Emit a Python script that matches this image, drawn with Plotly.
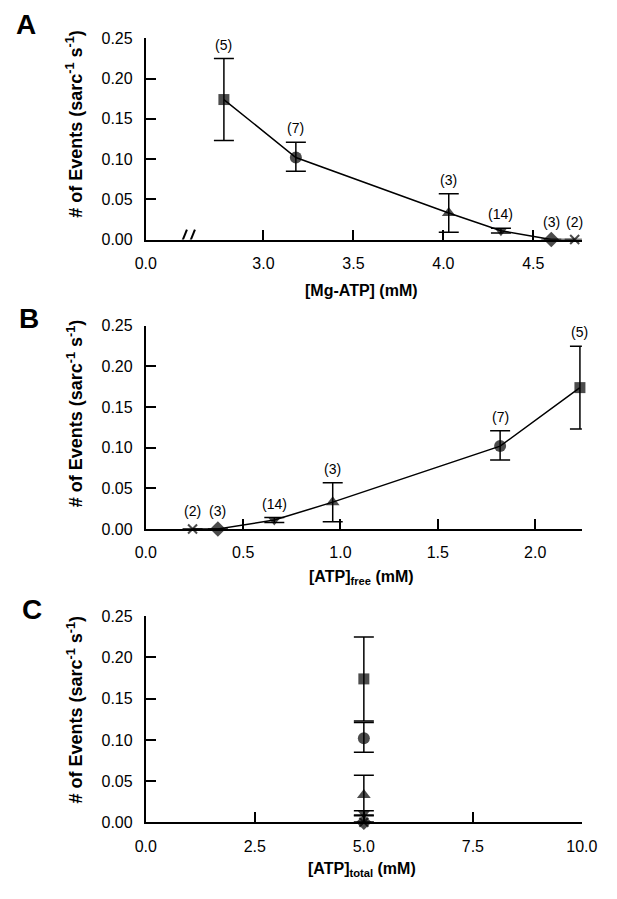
import plotly.graph_objects as go

# ---------------- data ----------------
MG_ATP = [2.78, 3.18, 4.03, 4.32, 4.60, 4.73]          # panel A x (mM)
ATP_FREE = [2.23, 1.82, 0.96, 0.66, 0.37, 0.24]        # panel B x (mM)
ATP_TOTAL = [5.0, 5.0, 5.0, 5.0, 5.0, 5.0]             # panel C x (mM)
EVENTS = [0.174, 0.102, 0.033, 0.011, 0.0, 0.0]        # # of events (sarc^-1 s^-1)
ERR_PLUS = [0.051, 0.019, 0.024, 0.003, 0.0, 0.0]
ERR_MINUS = [0.051, 0.017, 0.024, 0.003, 0.0, 0.0]
N_LABELS = ["(5)", "(7)", "(3)", "(14)", "(3)", "(2)"]
SYMBOLS = ["square", "circle", "triangle-up", "triangle-down", "diamond", "x-thin"]

A_TICKVALS = [2.346, 3.0, 3.5, 4.0, 4.5]
A_TICKTEXT = ["0.0", "3.0", "3.5", "4.0", "4.5"]
A_RANGE = [2.346, 4.77]
A_BREAK = 2.58
B_TICKVALS = [0.0, 0.5, 1.0, 1.5, 2.0]
B_TICKTEXT = ["0.0", "0.5", "1.0", "1.5", "2.0"]
B_RANGE = [0.0, 2.24]
C_TICKVALS = [0.0, 2.5, 5.0, 7.5, 10.0]
C_TICKTEXT = ["0.0", "2.5", "5.0", "7.5", "10.0"]
C_RANGE = [0.0, 10.0]
Y_TICKVALS = [0.0, 0.05, 0.10, 0.15, 0.20, 0.25]
Y_TICKTEXT = ["0.00", "0.05", "0.10", "0.15", "0.20", "0.25"]
Y_RANGE = [0.0, 0.25]

# ---------------- styling ----------------
W, H = 617, 899
FONT = "Liberation Sans, Arial, Helvetica, sans-serif"
MARKER_SIZES = [11, 12, 12, 11, 12, 9]
MARKER_LINE_W = [0, 0, 0, 0, 0, 2]


def px(x):
    return x / W


def py(y):
    return 1 - y / H


X_DOM = [px(141), px(597)]
PANELS = [  # (top px, bottom px)
    (31, 236),
    (324, 531),
    (620, 830),
]

fig = go.Figure()


def add_series(xs, axis_idx, with_line):
    sfx = "" if axis_idx == 1 else str(axis_idx)
    fig.add_trace(go.Scatter(
        x=xs, y=EVENTS,
        mode="lines+markers" if with_line else "markers",
        line=dict(color="black", width=1.5),
        marker=dict(symbol=SYMBOLS, size=MARKER_SIZES, color="black",
                    line=dict(color="black", width=MARKER_LINE_W)),
        error_y=dict(type="data", array=ERR_PLUS, arrayminus=ERR_MINUS,
                     color="black", thickness=1.5, width=10, visible=True),
        cliponaxis=False,
        showlegend=False,
        xaxis="x" + sfx, yaxis="y" + sfx,
    ))


add_series(MG_ATP, 1, True)
add_series(ATP_FREE, 2, True)
add_series(ATP_TOTAL, 3, False)

axis_common = dict(showline=True, linecolor="black", linewidth=2,
                   ticks="inside", ticklen=10, tickwidth=2, tickcolor="black",
                   showgrid=False, zeroline=False,
                   tickfont=dict(family=FONT, size=16, color="black"))

xspecs = [(A_RANGE, A_TICKVALS, A_TICKTEXT), (B_RANGE, B_TICKVALS, B_TICKTEXT),
          (C_RANGE, C_TICKVALS, C_TICKTEXT)]
layout = {}
for i, ((top, bot), (rng, tv, tt)) in enumerate(zip(PANELS, xspecs), start=1):
    sfx = "" if i == 1 else str(i)
    layout["xaxis" + sfx] = dict(axis_common, domain=X_DOM, range=rng,
                                 tickvals=tv, ticktext=tt,
                                 anchor="y" + sfx, ticklabelstandoff=8)
    layout["yaxis" + sfx] = dict(axis_common, domain=[py(bot), py(top)],
                                 range=Y_RANGE, tickvals=Y_TICKVALS,
                                 ticktext=Y_TICKTEXT, anchor="x" + sfx,
                                 ticklabelstandoff=8)
fig.update_layout(**layout)

annotations = []
# n labels above the error bars (panels A and B)
for sfx, xs in (("", MG_ATP), ("2", ATP_FREE)):
    for xv, yv, ep, lab in zip(xs, EVENTS, ERR_PLUS, N_LABELS):
        annotations.append(dict(
            x=xv, y=yv + ep, xref="x" + sfx, yref="y" + sfx,
            text=lab, showarrow=False, yshift=14 if ep > 0 else 18,
            xanchor="center", yanchor="middle",
            font=dict(family=FONT, size=14, color="black")))

ytitle = "<b># of Events (sarc<sup>-1</sup> s<sup>-1</sup>)</b>"
xtitles = ["<b>[Mg-ATP] (mM)</b>",
           "<b>[ATP]<sub>free</sub> (mM)</b>",
           "<b>[ATP]<sub>total</sub> (mM)</b>"]
letters = ["A", "B", "C"]
letter_pos = [(16, 17), (19, 316), (22, 613)]
ytitle_y = [119, 414, 716]
xtitle_y = [288, 580, 878]
for i in range(3):
    annotations.append(dict(x=px(67), y=py(ytitle_y[i]), xref="paper", yref="paper",
                            text=ytitle, textangle=-90, showarrow=False,
                            xanchor="center", yanchor="middle",
                            font=dict(family=FONT, size=18, color="black")))
    annotations.append(dict(x=px(367), y=py(xtitle_y[i]), xref="paper", yref="paper",
                            text=xtitles[i], showarrow=False,
                            xanchor="center", yanchor="middle",
                            font=dict(family=FONT, size=16, color="black")))
    annotations.append(dict(x=px(letter_pos[i][0]), y=py(letter_pos[i][1]),
                            xref="paper", yref="paper",
                            text="<b>" + letters[i] + "</b>", showarrow=False,
                            xanchor="center", yanchor="middle",
                            font=dict(family=FONT, size=28, color="black")))

# axis break marks on panel A
shapes = [
    dict(type="rect", xref="x", yref="y", xsizemode="pixel", ysizemode="pixel",
         xanchor=A_BREAK, yanchor=0, x0=-4, x1=4, y0=-3, y1=3,
         fillcolor="white", line=dict(width=0), layer="above"),
    dict(type="line", xref="x", yref="y", xsizemode="pixel", ysizemode="pixel",
         xanchor=A_BREAK, yanchor=0, x0=-9, x1=-1, y0=-10, y1=10,
         line=dict(color="black", width=2), layer="above"),
    dict(type="line", xref="x", yref="y", xsizemode="pixel", ysizemode="pixel",
         xanchor=A_BREAK, yanchor=0, x0=-1, x1=7, y0=-10, y1=10,
         line=dict(color="black", width=2), layer="above"),
]

fig.update_layout(
    width=W, height=H,
    margin=dict(l=0, r=0, t=0, b=0),
    paper_bgcolor="white", plot_bgcolor="white",
    annotations=annotations, shapes=shapes,
    showlegend=False,
)

fig.write_html("out.html",
               config={"displayModeBar": False},
               post_script="document.body.style.margin='0';"
                           "document.body.style.overflow='hidden';")
